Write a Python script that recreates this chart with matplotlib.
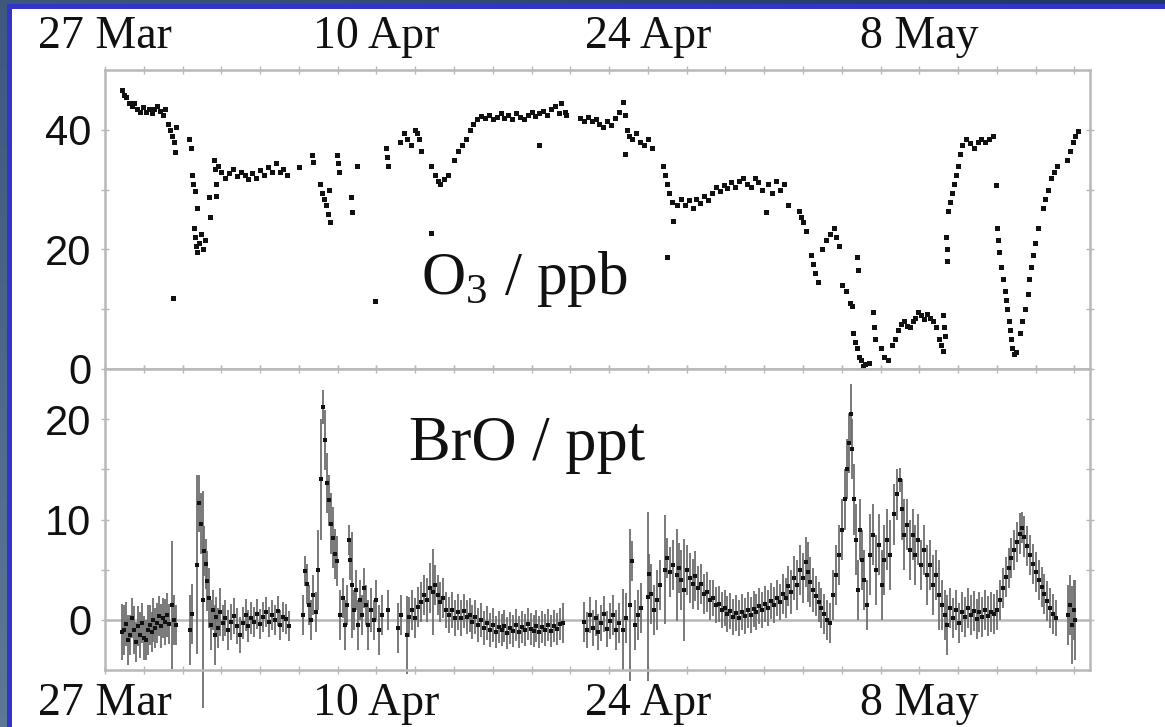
import matplotlib.pyplot as plt
import numpy as np
from matplotlib.colors import LinearSegmentedColormap
from matplotlib.patches import Rectangle

plt.rcParams["mathtext.fontset"] = "custom"
plt.rcParams["mathtext.rm"] = "Liberation Serif"

# ---------------------------------------------------------------------------
# Data (days since 27 March)
# ---------------------------------------------------------------------------

DATE_TICKS = [0, 14, 28, 42]
DATE_LABELS = ["27 Mar", "10 Apr", "24 Apr", "8 May"]
X_MAX = 50.8

O3_DAY = [
    0.86, 1.0, 1.1, 1.25, 1.4, 1.5, 1.65, 1.8, 1.95, 2.1, 2.25, 2.4, 2.55,
    2.7, 2.85, 3.0, 3.1, 3.25, 3.35, 3.45, 3.55, 3.6, 3.65, 3.5, 4.35, 4.45,
    4.5, 4.55, 4.65, 4.75, 4.6, 4.65, 4.7, 4.75, 4.85, 4.95, 5.05, 5.15,
    5.35, 5.4, 5.6, 5.65, 5.7, 5.75, 5.85, 6.0, 6.2, 6.4, 6.6, 6.8, 7.0,
    7.2, 7.4, 7.6, 7.8, 8.0, 8.2, 8.4, 8.6, 8.8, 9.0, 9.2, 9.4, 10.0, 10.7,
    10.75, 11.1, 11.2, 11.3, 11.4, 11.5, 11.6, 11.55, 11.95, 12.0, 12.05,
    12.7, 12.75, 13.0, 13.9, 14.5, 14.55, 14.6, 15.2, 15.4, 15.6, 15.8, 16.0,
    16.2, 16.3, 16.1, 16.8, 16.8, 17.0, 17.15, 17.3, 17.5, 17.7, 18.0, 18.2,
    18.4, 18.6, 18.8, 19.0, 19.2, 19.4, 19.6, 19.8, 20.0, 20.2, 20.4, 20.6,
    20.8, 21.0, 21.2, 21.4, 21.6, 21.8, 22.0, 22.2, 22.4, 22.6, 22.8, 23.0,
    23.2, 23.4, 23.5, 23.7, 23.8, 22.4, 24.5, 24.7, 24.9, 25.1, 25.3, 25.5,
    25.7, 25.9, 26.1, 26.3, 26.5, 26.7, 26.8, 26.9, 27.0, 27.2, 27.4, 27.6,
    27.8, 28.0, 28.2, 26.8, 28.8, 28.9, 29.0, 29.1, 29.25, 29.3, 29.0, 29.5,
    29.7, 29.9, 30.1, 30.3, 30.5, 30.7, 30.9, 31.1, 31.3, 31.5, 31.7, 31.9,
    32.1, 32.3, 32.5, 32.7, 32.9, 33.1, 33.3, 33.5, 33.7, 33.9, 34.1, 34.2,
    34.4, 34.6, 34.8, 35.0, 35.2, 35.8, 35.9, 36.0, 36.15, 36.4, 36.5, 36.6,
    36.75, 37.0, 37.2, 37.4, 37.6, 37.7, 37.85, 38.0, 38.2, 38.4, 38.5, 38.8,
    38.85, 38.6, 38.7, 38.8, 38.9, 39.0, 39.1, 39.2, 39.4, 39.6, 39.65, 39.7,
    40.0, 40.2, 40.4, 40.6, 40.75, 40.9, 41.05, 41.2, 41.35, 41.5, 41.65,
    41.8, 41.95, 42.1, 42.25, 42.4, 42.55, 42.7, 42.85, 43.0, 43.1, 43.2,
    43.2, 43.25, 43.3, 43.35, 43.4, 43.45, 43.5, 43.6, 43.7, 43.8, 43.9,
    44.0, 44.1, 44.2, 44.4, 44.6, 44.8, 45.0, 45.2, 45.4, 45.6, 45.8, 45.95,
    46.0, 46.05, 46.1, 46.2, 46.3, 46.4, 46.45, 46.5, 46.6, 46.65, 46.7,
    46.8, 46.9, 47.0, 47.2, 47.3, 47.45, 47.6, 47.65, 47.75, 47.85, 47.95,
    48.1, 48.4, 48.5, 48.65, 48.8, 48.95, 49.1, 49.6, 49.75, 49.9, 50.05,
    50.2,
]
O3_PPB = [
    46.7, 45.8, 45.5, 44.5, 44.0, 44.5, 43.5, 43.0, 43.8, 43.0, 43.5, 42.8,
    43.5, 44.0, 43.2, 42.5, 43.5, 41.0, 40.0, 39.0, 38.0, 36.3, 40.5, 11.8,
    38.5, 37.0, 32.5, 31.0, 29.7, 27.0, 23.5, 22.0, 20.5, 19.5, 21.0, 22.5,
    20.0, 21.5, 28.7, 25.5, 35.0, 33.5, 31.0, 29.0, 34.0, 33.0, 32.0, 32.8,
    33.5, 32.2, 33.0, 32.5, 31.8, 32.8, 32.0, 33.2, 32.5, 33.8, 33.0, 34.5,
    33.0, 33.5, 32.5, 33.8, 35.8, 34.6, 31.0, 29.5, 28.5, 27.5, 26.0, 24.5,
    30.0, 35.8, 34.5, 33.0, 28.7, 26.3, 34.0, 11.3, 37.0, 35.5, 34.0, 38.0,
    39.5, 38.5, 37.5, 40.0, 38.5, 36.5, 39.5, 22.8, 34.0, 32.5, 31.5, 31.0,
    31.8, 32.5, 35.0, 36.5, 37.5, 38.5, 40.0, 41.0, 41.8, 42.3, 42.0, 42.5,
    41.8, 42.2, 42.8, 42.0, 42.5, 41.8, 42.8, 42.2, 41.8, 42.5, 43.0, 42.3,
    42.8, 43.2, 42.5, 43.5, 44.0, 42.8, 44.5, 43.0, 42.5, 37.5, 42.0, 41.5,
    42.2, 41.5, 41.8, 41.0, 40.5, 41.5, 40.8, 42.0, 43.0, 44.7, 42.5, 40.0,
    39.0, 38.5, 39.5, 38.0, 37.5, 38.5, 37.0, 36.0, 34.0, 32.5, 31.0, 29.5,
    28.0, 24.7, 18.7, 27.5, 28.5, 27.5, 28.2, 27.0, 28.5, 27.8, 29.0, 28.2,
    29.5, 30.5, 29.8, 30.8, 30.2, 31.2, 30.5, 31.5, 32.0, 31.0, 30.5, 32.0,
    31.2, 30.0, 26.3, 31.0, 29.5, 31.5, 30.0, 31.0, 27.5, 26.5, 25.5, 24.5,
    23.0, 19.0, 17.5, 16.0, 14.5, 20.0, 21.5, 22.5, 23.5, 22.0, 20.5, 14.0,
    13.0, 11.0, 10.5, 18.7, 16.5, 6.0, 4.5, 3.5, 2.0, 1.5, 0.5, 0.8, 1.0,
    9.5, 7.0, 5.0, 3.5, 2.0, 1.5, 4.0, 5.0, 6.5, 7.5, 8.0, 7.2, 7.0, 8.0,
    8.5, 9.5, 9.0, 8.3, 9.2, 8.5, 8.0, 7.0, 5.0, 4.0, 3.0, 9.0, 7.0, 5.5,
    22.0, 20.0, 18.0, 26.5, 28.0, 29.5, 31.0, 32.5, 34.0, 36.0, 37.5, 38.5,
    37.8, 37.0, 38.0, 38.5, 38.0, 38.5, 39.0, 30.7, 23.5, 21.5, 19.5, 17.0,
    15.0, 13.0, 11.5, 10.0, 8.0, 6.5, 5.0, 3.5, 2.5, 2.8, 6.0, 8.0, 10.0,
    12.5, 15.0, 17.0, 19.0, 21.0, 23.5, 27.0, 28.5, 30.0, 32.0, 33.0, 34.0,
    35.0, 36.5, 38.0, 39.0, 39.8,
]

# BrO retrievals: value and 1-sigma error, one row per stretch of record
BRO_DAY = [
    0.9, 1.0, 1.1, 1.2, 1.3, 1.4, 1.5, 1.6, 1.7, 1.8, 1.9, 2.0, 2.1, 2.2,
    2.3, 2.4, 2.5, 2.6, 2.7, 2.8, 2.9, 3.0, 3.1, 3.2, 3.3, 3.45, 3.55, 3.65,
    4.4, 4.5, 4.74, 4.85, 4.95, 5.05, 5.12, 5.2, 5.28, 5.36,
    5.45, 5.55, 5.65, 5.75, 5.85, 5.95, 6.1, 6.2, 6.35, 6.5, 6.65, 6.8, 6.95,
    7.1, 7.25, 7.4, 7.55, 7.7, 7.85, 8.0, 8.15, 8.3, 8.45, 8.6, 8.75, 8.9,
    9.05, 9.2, 9.35, 9.5,
    10.2, 10.3, 10.4, 10.5, 10.6, 10.75, 10.9, 11.0, 11.15, 11.25, 11.35,
    11.45, 11.55, 11.65, 11.75, 11.85, 11.95, 12.1, 12.25, 12.4, 12.5, 12.58,
    12.65, 12.72, 12.85, 12.95, 13.05, 13.15, 13.25, 13.35, 13.45, 13.55,
    13.7, 13.85, 14.0, 14.15, 14.3, 14.6,
    15.1, 15.25, 15.55, 15.7, 15.85, 16.0, 16.15, 16.3, 16.45, 16.6, 16.75,
    16.9, 17.0, 17.15, 17.3, 17.45, 17.6, 17.75, 17.9, 18.05, 18.2, 18.35,
    18.5, 18.65, 18.8, 18.95, 19.1, 19.25, 19.4, 19.55, 19.7, 19.85, 20.0,
    20.15, 20.3, 20.45, 20.6, 20.75, 20.9, 21.05, 21.2, 21.35, 21.5, 21.65,
    21.8, 21.95, 22.1, 22.25, 22.4, 22.55, 22.7, 22.85, 23.0, 23.15, 23.3,
    23.45, 23.6,
    24.7, 24.85, 25.0, 25.15, 25.3, 25.45, 25.6, 25.75, 25.9, 26.05, 26.2,
    26.35, 26.5, 26.7, 26.85, 27.1, 27.2, 27.35, 27.5, 27.65, 28.0, 28.05,
    28.15, 28.3, 28.45, 28.6, 28.9, 29.0, 29.15, 29.3, 29.5, 29.6, 29.7,
    29.85, 30.0, 30.15, 30.3, 30.45, 30.6, 30.75, 30.9, 31.05, 31.2, 31.35,
    31.5, 31.65, 31.8, 31.95, 32.1, 32.25, 32.4, 32.55, 32.7, 32.85, 33.0,
    33.15, 33.3, 33.45, 33.6, 33.75, 33.9, 34.05, 34.2, 34.35, 34.5, 34.65,
    34.8, 34.95, 35.1, 35.25, 35.4, 35.55, 35.7, 35.85, 36.0, 36.15, 36.25,
    36.35, 36.5, 36.65, 36.8, 36.95, 37.1, 37.25, 37.4, 37.55, 37.7, 37.85,
    38.0, 38.15, 38.25, 38.35, 38.45, 38.55, 38.65, 38.75, 38.85, 38.95,
    39.05, 39.15, 39.3, 39.45, 39.6, 39.75, 39.9, 40.05, 40.2, 40.35, 40.5,
    40.7, 40.85, 41.0, 41.1, 41.2, 41.35, 41.5, 41.65, 41.8, 41.95, 42.1,
    42.25, 42.4, 42.55, 42.7, 42.85, 43.0, 43.15, 43.3, 43.45, 43.6, 43.75,
    43.9, 44.05, 44.2, 44.35, 44.5, 44.65, 44.8, 44.95, 45.1, 45.25, 45.4,
    45.55, 45.7, 45.85, 46.0, 46.15, 46.3, 46.45, 46.6, 46.75, 46.9, 47.05,
    47.2, 47.3, 47.4, 47.55, 47.7, 47.85, 48.0, 48.15, 48.3, 48.45, 48.6,
    48.75, 48.9, 49.05,
    49.65, 49.75, 49.85, 49.95, 50.05,
]
BRO_PPT = [
    -1.2, -1.0, -0.4, -2.0, -1.5, 0.2, -1.0, -2.2, -0.6, -1.5, -0.3, -1.8,
    -2.0, -1.0, -0.5, -1.2, 0.0, -0.8, -0.3, 0.4, -0.6, 0.2, -0.2, 0.5,
    -0.4, 1.5, 0.0, -0.5,
    -1.0, 0.6, 5.5, 11.6, 9.6, 2.0, 6.9, 5.6, 3.9, 2.2,
    -0.5, 1.0, -1.5, 0.3, -0.8, 0.8, -0.3, 0.2, -1.0, -0.2, 0.4, -0.6, -1.5,
    -0.3, 0.5, -0.6, 0.2, -0.2, 0.6, -0.4, 0.3, 0.8, -0.2, 0.5, 0.0, 0.9,
    -0.5, 0.3, 0.1, -0.6,
    0.5, 4.9, 3.6, 1.5, 0.0, 2.5, 0.8, 5.0, 14.0, 21.2, 17.9,
    13.6, 11.9, 9.6, 8.2, 6.6, 5.9, 0.5, 2.2, -0.5, 1.5, 8.0,
    6.0, 3.5, 1.0, 3.0, -0.5, 2.0, 0.5, 3.2, 1.5, -0.5,
    1.0, 0.0, 2.0, -1.0, 0.5, 1.0,
    -0.8, 0.5, -1.5, 0.3, 1.0, 0.2, 1.3, 1.8, 2.5, 2.0, 3.2,
    2.8, 3.5, 2.5, 1.8, 2.2, 1.0, 0.5, 1.0, 0.2, 0.8, 0.2,
    0.9, 0.3, 0.5, -0.2, 0.3, -0.5, 0.0, -0.8, -0.3, -1.0, -0.5,
    -1.2, -0.7, -1.0, -0.6, -1.3, -0.8, -1.1, -0.5, -1.2, -0.7, -1.0,
    -0.4, -0.9, -1.1, -0.6, -1.2, -0.7, -1.0, -0.5, -1.1, -0.6, -0.9,
    -0.4, -0.3,
    -0.2, -1.0, 0.5, -0.8, 0.2, -1.2, -0.3, 0.6, -0.9, -0.1, 0.5,
    -1.0, -0.3, -1.0, 0.2, 1.5, 5.9, -0.5, 0.5, 1.2, 2.3, 4.6,
    2.6, 1.0, 2.0, 3.5, 5.0, 6.2, 4.8, 5.5, 4.5, 5.2, 4.0,
    3.0, 5.0, 4.2, 3.6, 4.4, 3.2, 3.6, 2.6, 2.8, 2.0, 2.2,
    1.5, 1.6, 1.0, 1.2, 0.6, 0.9, 0.3, 0.7, 0.2, 0.8, 0.4,
    1.0, 0.5, 1.1, 0.8, 1.4, 1.0, 1.6, 1.2, 1.9, 1.5, 2.2,
    1.8, 2.6, 2.2, 3.4, 2.8, 4.2, 3.5, 5.0, 4.2, 5.8, 4.8,
    3.8, 3.0, 2.4, 1.8, 1.2, 0.6, 0.0, -0.3, 2.5, 4.5, 6.5,
    9.0, 12.0, 15.0, 17.6, 20.5, 17.0, 12.0, 8.0, 3.0, 9.0,
    6.0, 4.0, 1.5, 6.5, 8.5, 5.0, 7.5, 3.5, 6.0, 8.0, 6.5,
    10.5, 12.5, 13.9, 11.0, 8.5, 9.5, 7.0, 8.5, 6.5, 8.0, 5.5,
    7.0, 4.5, 5.5, 3.5, 4.5, 2.5, 1.5, 0.5, -0.5, 1.2, 0.2,
    1.0, -0.3, 0.8, 0.3, 1.2, 0.5, 0.9, 0.1, 0.8, 0.3, 1.0,
    0.4, 0.8, 0.6, 1.0, 2.0, 3.2, 4.3, 5.2, 6.2, 7.0, 7.8,
    8.6, 9.2, 8.3, 7.4, 6.5, 5.6, 4.8, 4.0, 3.3, 2.6, 1.9,
    1.2, 0.6, 0.2,
    0.5, 1.5, -0.5, 1.0, 0.0,
]
BRO_ERR = [
    2.8, 2.5, 2.2, 2.5, 2.0, 2.0, 2.4, 2.0, 2.0, 2.3, 2.0, 2.2, 2.0, 2.5,
    2.0, 2.0, 2.2, 2.0, 2.0, 2.0, 2.2, 2.0, 2.3, 2.2, 2.0, 6.4, 2.5, 2.0,
    3.5, 3.0, 8.9, 2.8, 3.0, 10.8, 2.5, 2.5, 3.0, 3.0,
    2.5, 2.0, 3.0, 2.0, 2.0, 2.4, 1.8, 1.8, 2.0, 1.8, 1.8, 1.8, 1.8,
    1.6, 1.6, 1.6, 1.6, 1.5, 1.5, 1.5, 1.5, 1.5, 1.5, 1.5, 1.5, 1.5,
    1.5, 1.5, 1.5, 1.5,
    2.0, 1.5, 2.0, 2.0, 2.0, 2.0, 2.0, 4.0, 6.0, 1.7, 3.0,
    3.0, 2.5, 3.0, 3.0, 2.5, 2.5, 2.5, 2.0, 2.5, 2.0, 1.5,
    2.0, 5.3, 2.0, 2.0, 2.5, 2.0, 2.0, 2.0, 2.0, 2.5,
    2.2, 2.0, 2.0, 2.5, 2.0, 2.0,
    2.5, 2.0, 3.9, 2.0, 2.0, 2.0, 2.0, 2.0, 2.0, 2.2, 2.5,
    4.3, 2.0, 2.0, 2.0, 2.0, 1.8, 1.8, 1.8, 1.8, 1.8, 1.8,
    1.7, 1.7, 1.7, 1.7, 1.7, 1.7, 1.7, 1.7, 1.7, 1.7, 1.7,
    1.6, 1.6, 1.6, 1.6, 1.6, 1.6, 1.6, 1.6, 1.6, 1.6, 1.6,
    1.6, 1.6, 1.6, 1.6, 1.6, 1.6, 1.6, 1.6, 1.6, 1.6, 1.6,
    1.6, 2.0,
    2.0, 1.8, 1.8, 1.8, 1.8, 1.8, 1.8, 1.8, 1.8, 1.8, 2.0,
    2.0, 2.0, 4.1, 2.5, 7.6, 2.0, 2.5, 2.5, 2.5, 8.4, 2.0,
    3.0, 2.5, 3.0, 2.5, 5.4, 2.0, 2.5, 2.5, 4.6, 2.5, 3.0,
    5.1, 2.5, 2.5, 2.5, 2.5, 2.2, 2.0, 2.0, 2.0, 2.0, 1.8,
    1.8, 1.8, 1.8, 1.8, 1.8, 1.8, 1.8, 1.8, 1.8, 1.8, 1.8,
    1.8, 1.8, 1.8, 1.8, 1.8, 1.8, 1.8, 1.8, 1.8, 1.8, 1.8,
    1.8, 2.0, 2.0, 2.0, 2.2, 2.2, 2.5, 2.5, 2.5, 2.5, 3.0,
    2.5, 2.2, 2.0, 2.0, 2.0, 2.0, 2.0, 2.0, 2.5, 3.0, 3.0,
    3.0, 3.0, 3.0, 3.0, 3.0, 3.0, 3.5, 3.5, 3.0, 3.0,
    3.0, 3.0, 2.5, 4.0, 3.0, 3.5, 3.0, 3.5, 3.5, 3.0, 3.5,
    3.0, 2.5, 1.2, 3.0, 3.5, 2.5, 3.0, 2.5, 3.0, 2.5, 2.5,
    2.5, 3.0, 2.5, 3.0, 2.5, 3.5, 2.5, 2.5, 3.0, 2.0, 2.0,
    2.0, 2.0, 2.0, 2.0, 2.0, 2.0, 2.0, 2.0, 2.0, 2.0, 2.0,
    2.0, 2.0, 2.0, 2.0, 2.0, 2.0, 2.0, 2.0, 2.0, 2.0, 2.0,
    2.0, 1.5, 2.0, 2.0, 2.0, 2.0, 2.0, 2.0, 2.0, 2.0, 2.0,
    2.0, 2.0, 1.8,
    3.0, 3.0, 3.9, 3.0, 4.0,
]

assert len(O3_DAY) == len(O3_PPB)
assert len(BRO_DAY) == len(BRO_PPT) == len(BRO_ERR)

# ---------------------------------------------------------------------------
# Style
# ---------------------------------------------------------------------------

W, H = 1165, 727
AXIS_GREY = "#b8b8b8"
DOT = "#111111"
BAR_GREY = "#6e6e6e"
SERIF = "Liberation Serif"
SANS = "Liberation Sans"

fig = plt.figure(figsize=(W / 100, H / 100), dpi=100)

# slide backdrop: navy gradient, blue rule, white card
bg = fig.add_axes([0, 0, 1, 1], zorder=-10)
gx, gy = np.meshgrid(np.linspace(0, 1, 64), np.linspace(0, 1, 64))
navy = LinearSegmentedColormap.from_list("navy", ["#5d7896", "#1e3766"])
bg.imshow((gx + (1 - gy)) / 2, cmap=navy, aspect="auto", extent=[0, 1, 0, 1])
bg.add_patch(Rectangle((7 / W, 0), 1, (H - 4) / H, color="#3434c8", lw=0))
bg.add_patch(Rectangle((12 / W, 0), 1, (H - 9) / H, color="white", lw=0))
bg.set_xlim(0, 1)
bg.set_ylim(0, 1)
bg.axis("off")

ax_o3 = fig.add_axes([105 / W, (H - 369) / H, 985 / W, 299 / H])
ax_bro = fig.add_axes([105 / W, (H - 670) / H, 985 / W, 301 / H])

x_ticks = np.arange(0, 51, 2)
x_labels = [DATE_LABELS[DATE_TICKS.index(t)] if t in DATE_TICKS else "" for t in x_ticks]

for ax in (ax_o3, ax_bro):
    ax.set_xlim(0, X_MAX)
    for sp in ax.spines.values():
        sp.set_color(AXIS_GREY)
        sp.set_linewidth(1.8)
    ax.set_xticks(x_ticks)
    ax.set_xticklabels(x_labels, fontfamily=SERIF, fontsize=33)
    ax.tick_params(axis="both", which="both", direction="inout", color=AXIS_GREY,
                   width=1.0, length=6, top=True, bottom=True, left=True, right=True,
                   labelcolor="#111111")
    ax.tick_params(axis="x", pad=6)
    ax.tick_params(axis="y", pad=7)

ax_o3.tick_params(axis="x", labeltop=True, labelbottom=False)
ax_bro.tick_params(axis="x", labeltop=False, labelbottom=True)

# --- O3 ---
ax_o3.set_ylim(0, 50)
ax_o3.set_yticks([0, 20, 40])
ax_o3.set_yticks([10, 30], minor=True)
ax_o3.set_yticklabels(["0", "20", "40"], fontfamily=SANS, fontsize=30)
ax_o3.plot(O3_DAY, O3_PPB, "s", ms=3.6, mew=0, color=DOT)
ax_o3.text(16.3, 12.5, r"O$_3$ / ppb", fontsize=44, fontfamily=SERIF,
           ha="left", va="baseline", color="#111111")

# --- BrO ---
ax_bro.set_ylim(-5, 25)
ax_bro.set_yticks([0, 10, 20])
ax_bro.set_yticks([5, 15], minor=True)
ax_bro.set_yticklabels(["0", "10", "20"], fontfamily=SANS, fontsize=30)
ax_bro.axhline(0, color=AXIS_GREY, lw=1.8, zorder=0)
eb = ax_bro.errorbar(BRO_DAY, BRO_PPT, yerr=BRO_ERR, fmt="none",
                     ecolor=BAR_GREY, elinewidth=1.3, capsize=0)
for coll in eb.lines[2]:
    coll.set_clip_on(False)
ax_bro.plot(BRO_DAY, BRO_PPT, "s", ms=3.4, mew=0, color=DOT)
ax_bro.text(15.7, 15.9, "BrO / ppt", fontsize=45, fontfamily=SERIF,
            ha="left", va="baseline", color="#111111")

fig.savefig("out.png", dpi=100)
